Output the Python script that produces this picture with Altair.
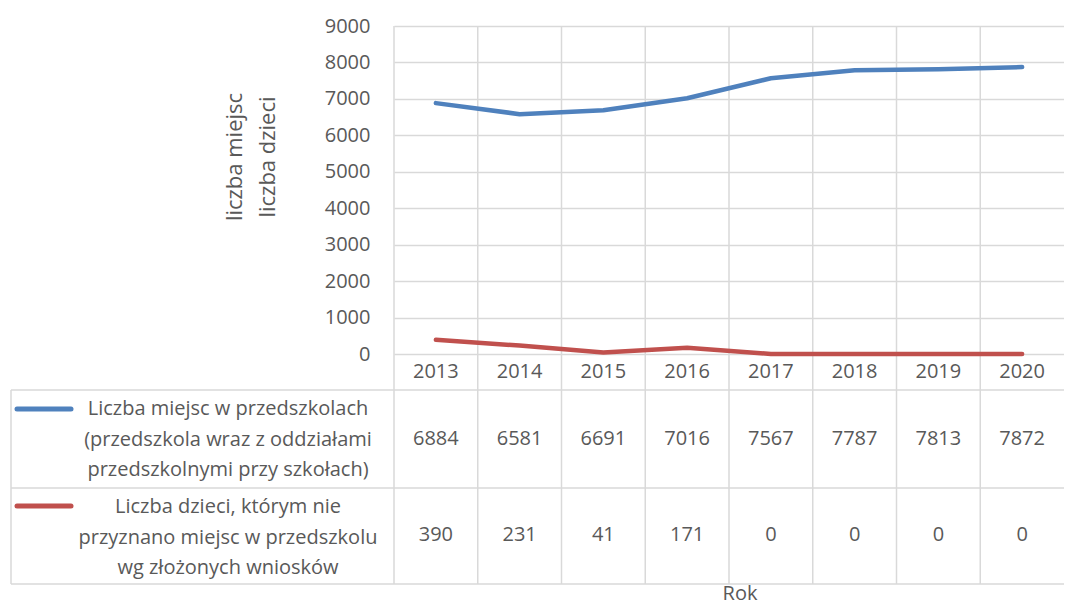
import altair as alt
import pandas as pd

# ---- data ----
years = ["2013", "2014", "2015", "2016", "2017", "2018", "2019", "2020"]
miejsca = [6884, 6581, 6691, 7016, 7567, 7787, 7813, 7872]
odmowy = [390, 231, 41, 171, 0, 0, 0, 0]
series = [
    "Liczba miejsc w przedszkolach (przedszkola wraz z oddziałami przedszkolnymi przy szkołach)",
    "Liczba dzieci, którym nie przyznano miejsc w przedszkolu wg złożonych wniosków",
]
series_labels = [
    "Liczba miejsc w przedszkolach\n(przedszkola wraz z oddziałami\nprzedszkolnymi przy szkołach)",
    "Liczba dzieci, którym nie\nprzyznano miejsc w przedszkolu\nwg złożonych wniosków",
]
colors = ["#4F81BD", "#C0504D"]
y_ticks = [0, 1000, 2000, 3000, 4000, 5000, 6000, 7000, 8000, 9000]
y_title = "liczba miejsc\nliczba dzieci"
x_title = "Rok"

# ---- tables ----
df1 = pd.DataFrame({"year": years, "value": miejsca, "series": series[0]})
df2 = pd.DataFrame({"year": years, "value": odmowy, "series": series[1]})
df = pd.concat([df1, df2], ignore_index=True)
df_years = pd.DataFrame({"year": years})
df_hdr = pd.DataFrame({"series": series, "label": series_labels})
one = pd.DataFrame({"k": [0]})

W, H = 670, 328
FONT = "Open Sans"
TXT = "#595959"
GRID = "#D9D9D9"
FS = 20
TABLE_BOTTOM = 558
LEFT = -383

xscale = alt.Scale(type="band", domain=years, paddingInner=0, paddingOuter=0)

# vertical boundary lines (data-driven by year bands)
vleft = alt.Chart(df_years).mark_rule(color=GRID, strokeWidth=1.5).encode(
    x=alt.X("year:O", scale=xscale, bandPosition=0, axis=None),
    y=alt.value(0), y2=alt.value(TABLE_BOTTOM),
)

def hrule(ypix):
    return alt.Chart(one).mark_rule(color=GRID, strokeWidth=1.5).encode(
        x=alt.value(LEFT), x2=alt.value(W + 10), y=alt.value(ypix)
    )

hdr_border = alt.Chart(one).mark_rule(color=GRID, strokeWidth=1.5).encode(
    x=alt.value(LEFT), y=alt.value(364), y2=alt.value(TABLE_BOTTOM)
)

lines = alt.Chart(df).mark_line(strokeWidth=4.5, strokeCap="round", strokeJoin="round").encode(
    x=alt.X("year:O", scale=xscale, axis=None),
    y=alt.Y(
        "value:Q", scale=alt.Scale(domain=[0, 9000], nice=False),
        axis=alt.Axis(values=y_ticks, format="d", title=None, domain=False, ticks=False, tickSize=0,
                      grid=True, gridColor=GRID, gridWidth=1.5,
                      labelFont=FONT, labelFontSize=FS, labelColor=TXT, labelPadding=24),
    ),
    color=alt.Color("series:N", scale=alt.Scale(domain=series, range=colors), legend=None),
)

year_labels = alt.Chart(df_years).mark_text(
    font=FONT, fontSize=FS, color=TXT, baseline="middle", align="center"
).encode(x=alt.X("year:O", scale=xscale, axis=None), y=alt.value(346), text="year:N")

def row_values(sname, ypix):
    return alt.Chart(df).transform_filter(alt.datum.series == sname).mark_text(
        font=FONT, fontSize=FS, color=TXT, baseline="middle", align="center"
    ).encode(x=alt.X("year:O", scale=xscale, axis=None), y=alt.value(ypix), text="value:Q")

def row_header(sname, ypix):
    return alt.Chart(df_hdr).transform_filter(alt.datum.series == sname).mark_text(
        font=FONT, fontSize=FS, color=TXT, baseline="middle", align="center",
        lineBreak="\n", lineHeight=30.5
    ).encode(x=alt.value(-166), y=alt.value(ypix), text="label:N")

def sample(sname, ypix):
    return alt.Chart(df_hdr).transform_filter(alt.datum.series == sname).mark_rule(
        strokeWidth=5, strokeCap="round"
    ).encode(
        x=alt.value(-377), x2=alt.value(-323), y=alt.value(ypix),
        color=alt.Color("series:N", scale=alt.Scale(domain=series, range=colors), legend=None),
    )

ytitle = alt.Chart(one).mark_text(
    font=FONT, fontSize=22, color=TXT, angle=270, align="center", baseline="middle",
    lineBreak="\n", lineHeight=33
).encode(x=alt.value(-159), y=alt.value(131), text=alt.value(y_title))

xtitle = alt.Chart(one).mark_text(
    font=FONT, fontSize=FS, color=TXT, align="center", baseline="middle"
).encode(x=alt.value(346), y=alt.value(568), text=alt.value(x_title))

chart = alt.layer(
    vleft, hrule(364), hrule(462), hrule(TABLE_BOTTOM), hdr_border,
    lines, year_labels,
    row_values(series[0], 413), row_values(series[1], 509),
    row_header(series[0], 383), row_header(series[1], 481),
    sample(series[0], 383), sample(series[1], 480),
    ytitle, xtitle,
).properties(
    width=W, height=H,
    autosize=alt.AutoSizeParams(type="none"),
    padding={"left": 386, "top": 18, "right": 0, "bottom": 251},
    background="white",
).configure_view(stroke=None)

chart.save("out.html", embed_options={"renderer": "svg", "actions": False})
